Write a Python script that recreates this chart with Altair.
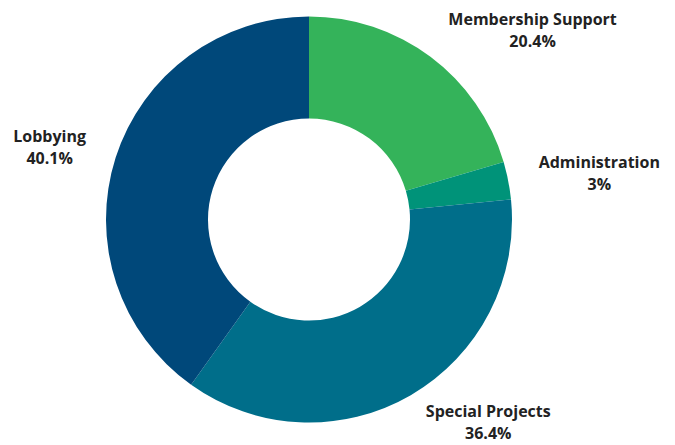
import math
import altair as alt
import pandas as pd

categories = ["Membership Support", "Administration", "Special Projects", "Lobbying"]
values = [20.4, 3, 36.4, 40.1]
colors = ["#34b35a", "#009379", "#006e8a", "#00487a"]

# layout constants
CX, CY = 301, 211.5
R_OUT, R_IN = 203, 101
R_LABEL = 235
FONT_SIZE = 16
LINE_H = 22

# approximate Open Sans Bold advance widths (em)
W = {" ": .26, "%": .855, ".": .286, "A": .693, "L": .549, "M": .924, "P": .623,
     "S": .548, "a": .589, "b": .623, "c": .51, "d": .623, "e": .578, "g": .554,
     "h": .646, "i": .295, "j": .295, "l": .295, "m": .977, "n": .646, "o": .608,
     "p": .623, "r": .448, "s": .499, "t": .421, "u": .646, "y": .543}
for d in "0123456789":
    W[d] = .572


def text_width(s):
    return sum(W.get(ch, .6) for ch in s) * FONT_SIZE


total = sum(values)
rows = []
cum = 0
for i, (c, v) in enumerate(zip(categories, values)):
    mid = cum + v / 2
    cum += v
    ang = 2 * math.pi * mid / total
    ax = CX + R_LABEL * math.sin(ang)
    ay = CY - R_LABEL * math.cos(ang)
    pct = f"{v:g}%"
    w = max(text_width(c), text_width(pct))
    lx = ax + w / 2 if math.sin(ang) >= 0 else ax - w / 2
    # first line is placed at y; shift so the two-line block is centred on the anchor
    rows.append({"category": c, "value": v, "order": i,
                 "label": f"{c}\n{pct}", "lx": lx, "ly": ay - LINE_H / 2})

df = pd.DataFrame(rows)

base = alt.Chart(df)

arcs = base.mark_arc(outerRadius=R_OUT, innerRadius=R_IN).encode(
    theta=alt.Theta("value:Q", stack=True),
    order=alt.Order("order:Q"),
    color=alt.Color("category:N", scale=alt.Scale(domain=categories, range=colors), legend=None),
    x=alt.value(CX),
    y=alt.value(CY),
)

labels = base.mark_text(
    font="Open Sans", fontWeight="bold", fontSize=FONT_SIZE, color="#222222",
    align="center", baseline="middle", lineBreak="\n", lineHeight=LINE_H,
).encode(
    x=alt.X("lx:Q", scale=None),
    y=alt.Y("ly:Q", scale=None),
    text="label:N",
)

chart = alt.layer(arcs, labels).properties(
    width=659, height=437, padding=0,
    autosize=alt.AutoSizeParams(type="none"),
).configure_view(stroke=None)

chart.save("out.html", embed_options={"renderer": "svg", "actions": False})
